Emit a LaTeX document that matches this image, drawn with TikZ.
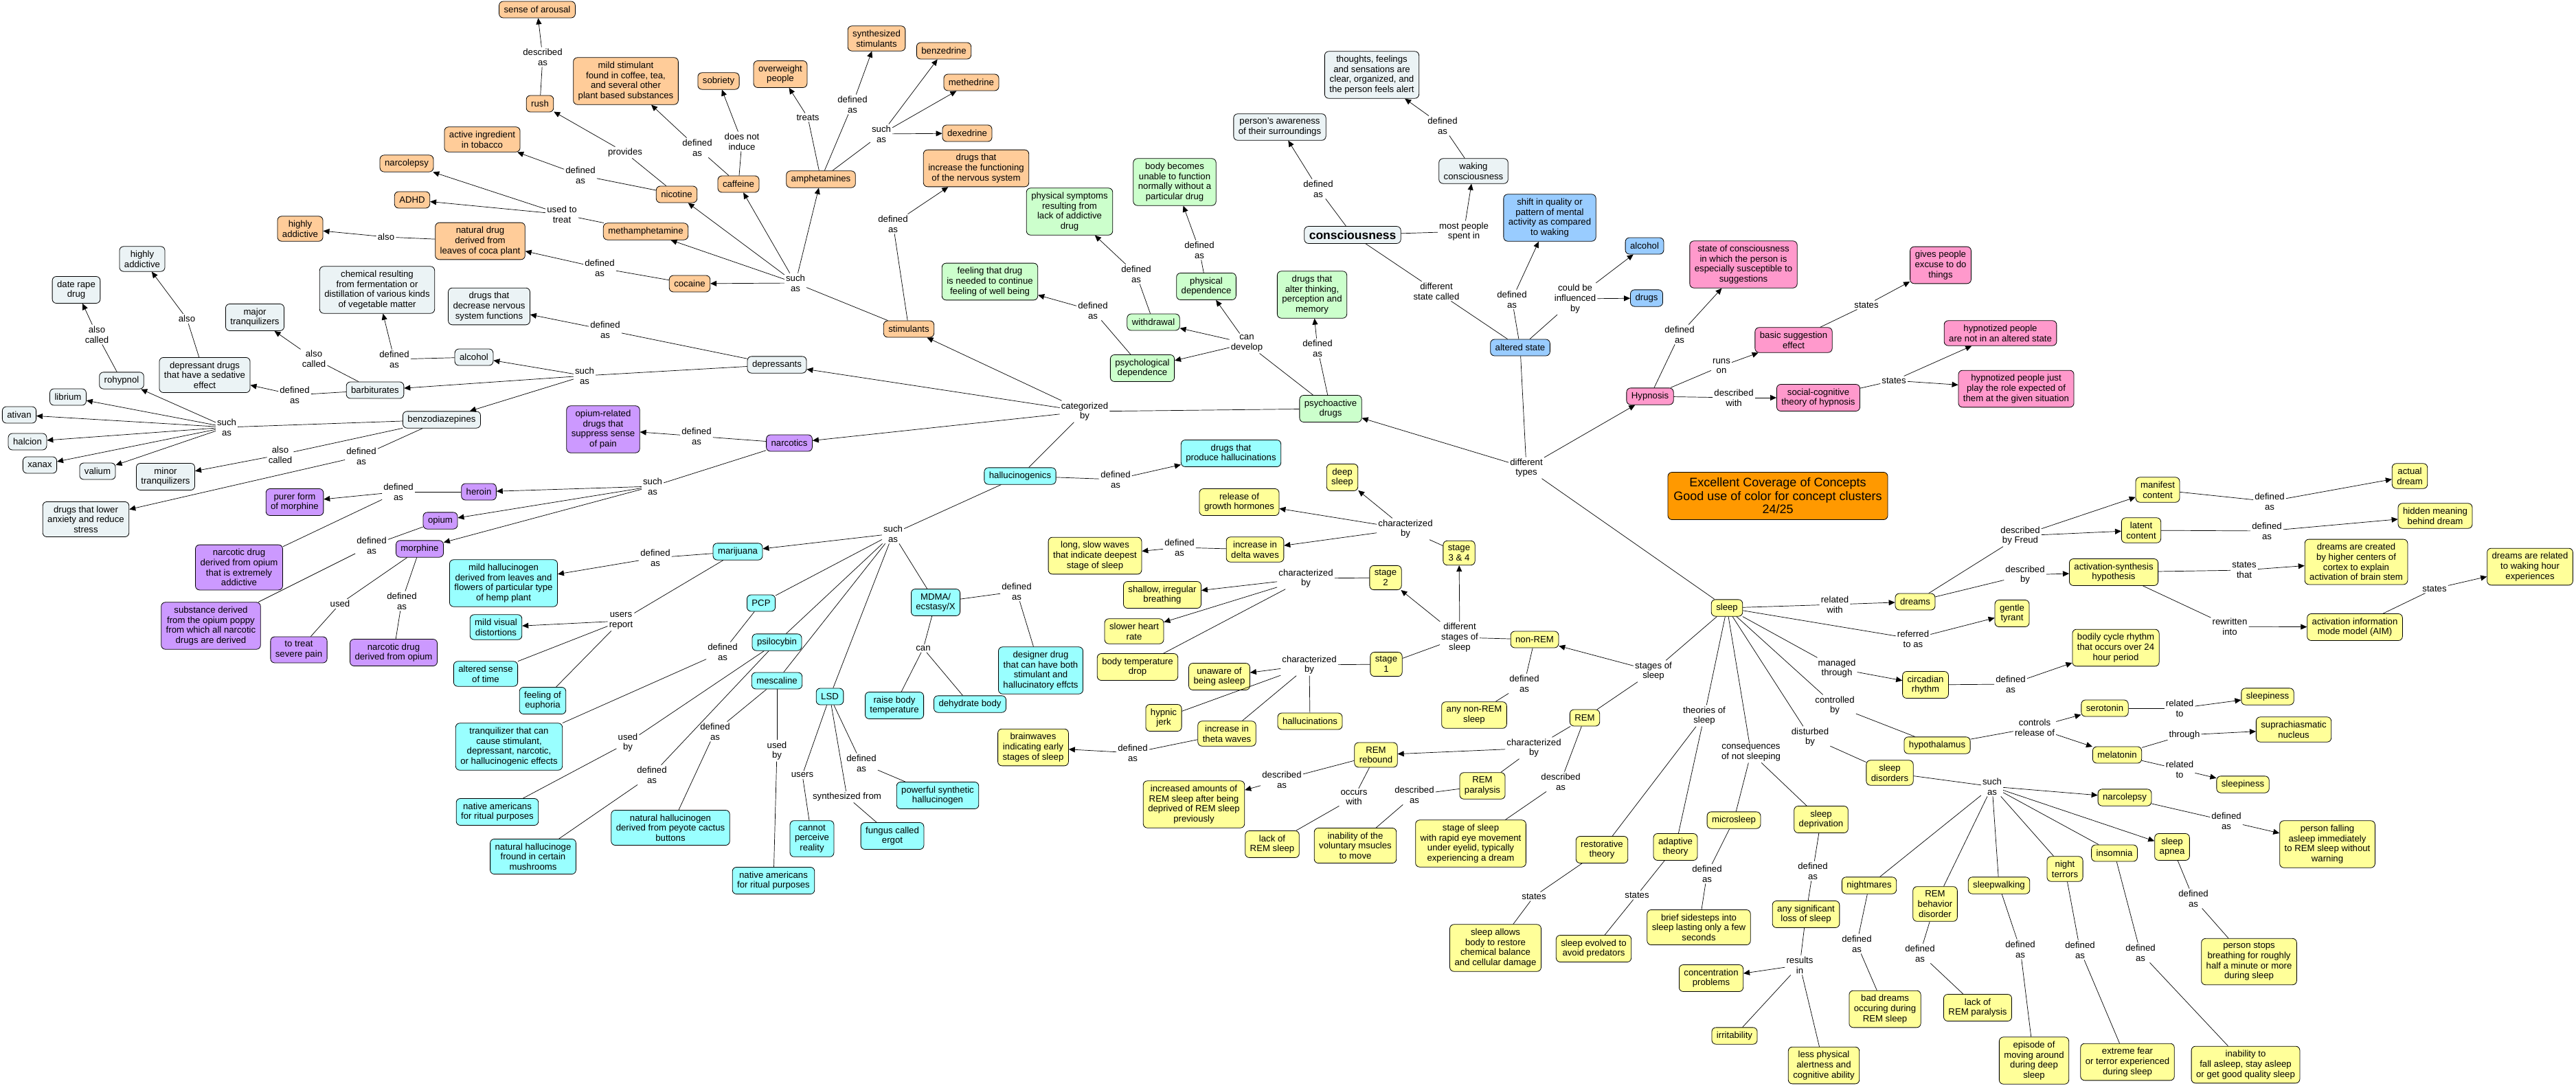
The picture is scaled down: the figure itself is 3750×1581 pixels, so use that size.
\documentclass[tikz,border=0pt]{standalone}
\usepackage{fontspec}
\setmainfont{Liberation Sans}
\usetikzlibrary{arrows.meta}
\definecolor{stimorange}{HTML}{FFCC99}
\definecolor{depgray}{HTML}{EBF3F5}
\definecolor{narcpurple}{HTML}{CC99FF}
\definecolor{halcyan}{HTML}{99FFFF}
\definecolor{psygreen}{HTML}{CCFFCC}
\definecolor{altblue}{HTML}{99CCFF}
\definecolor{hyppink}{HTML}{FF99CC}
\definecolor{slpyellow}{HTML}{FFFF99}
\definecolor{gradeorange}{HTML}{FF9900}
\newcommand{\mapfont}{\fontsize{13.2}{14.7}\selectfont}
\tikzset{
    concept/.style={draw,rounded corners=6pt,align=center,inner xsep=7pt,inner ysep=6pt,
        minimum height=24pt,line width=0.8pt,font=\mapfont},
    stimbox/.style={concept,fill=stimorange},
    depbox/.style={concept,fill=depgray},
    narcbox/.style={concept,fill=narcpurple},
    halbox/.style={concept,fill=halcyan},
    psybox/.style={concept,fill=psygreen},
    altbox/.style={concept,fill=altblue},
    hypbox/.style={concept,fill=hyppink},
    slpbox/.style={concept,fill=slpyellow},
    lnk/.style={align=center,inner sep=2pt,font=\mapfont},
    every edge/.style={draw,-{Triangle[length=9pt,width=8pt]},line width=0.7pt},
    plain/.style={-},
}
\begin{document}
\begin{tikzpicture}[x=1pt,y=-1pt]
    \useasboundingbox (0,0) rectangle (3750,1581);

    % stimulants
    \node[stimbox] (arousal) at (782,14) {sense of arousal};
    \node[stimbox] (rush) at (786,151) {rush};
    \node[stimbox] (mildstim) at (911,118) {mild stimulant\\found in coffee, tea,\\and several other\\plant based substances};
    \node[stimbox] (tobacco) at (702,203) {active ingredient\\in tobacco};
    \node[stimbox] (narcoO) at (592,238) {narcolepsy};
    \node[stimbox] (adhd) at (600,291) {ADHD};
    \node[stimbox] (addO) at (437,333) {highly\\addictive};
    \node[stimbox] (coca) at (699,351) {natural drug\\derived from\\leaves of coca plant};
    \node[stimbox] (meth) at (940,337) {methamphetamine};
    \node[stimbox] (sobriety) at (1046,118) {sobriety};
    \node[stimbox] (overweight) at (1136,108) {overweight\\people};
    \node[stimbox] (synth) at (1276,56) {synthesized\\stimulants};
    \node[stimbox] (benzed) at (1374,74) {benzedrine};
    \node[stimbox] (methed) at (1414,120) {methedrine};
    \node[stimbox] (dexed) at (1408,194) {dexedrine};
    \node[stimbox] (caffeine) at (1075,268) {caffeine};
    \node[stimbox] (nicotine) at (985,283) {nicotine};
    \node[stimbox] (amph) at (1195,261) {amphetamines};
    \node[stimbox] (incfunc) at (1421,245) {drugs that\\increase the functioning\\of the nervous system};
    \node[stimbox] (cocaine) at (1004,413) {cocaine};
    \node[stimbox] (stim) at (1323,479) {stimulants};

    % depressants and consciousness
    \node[depbox] (addG) at (207,377) {highly\\addictive};
    \node[depbox] (daterape) at (111,422) {date rape\\drug};
    \node[depbox] (majtranq) at (371,462) {major\\tranquilizers};
    \node[depbox] (chem) at (549,422) {chemical resulting\\from fermentation or\\distillation of various kinds\\of vegetable matter};
    \node[depbox] (decfunc) at (712,446) {drugs that\\decrease nervous\\system functions};
    \node[depbox] (alcG) at (690,520) {alcohol};
    \node[depbox] (sedative) at (298,546) {depressant drugs\\that have a sedative\\effect};
    \node[depbox] (dep) at (1131,531) {depressants};
    \node[depbox] (rohyp) at (177,554) {rohypnol};
    \node[depbox] (librium) at (99,578) {librium};
    \node[depbox] (ativan) at (28,604) {ativan};
    \node[depbox] (halcion) at (40,643) {halcion};
    \node[depbox] (xanax) at (58,677) {xanax};
    \node[depbox] (valium) at (142,686) {valium};
    \node[depbox] (mintranq) at (241,694) {minor\\tranquilizers};
    \node[depbox] (anxiety) at (125,756) {drugs that lower\\anxiety and reduce\\stress};
    \node[depbox] (barb) at (546,568) {barbiturates};
    \node[depbox] (benzo) at (643,611) {benzodiazepines};
    \node[depbox] (awareness) at (1863,185) {person's awareness\\of their surroundings};
    \node[depbox] (thoughts) at (1997,109) {thoughts, feelings\\and sensations are\\clear, organized, and\\the person feels alert};
    \node[depbox] (waking) at (2145,249) {waking\\consciousness};
    \node[depbox,font=\fontsize{17.5}{20}\selectfont\bfseries] (consc) at (1969,342) {consciousness};

    % narcotics
    \node[narcbox] (opirel) at (878,625) {opium-related\\drugs that\\suppress sense\\of pain};
    \node[narcbox] (narc) at (1149,645) {narcotics};
    \node[narcbox] (heroin) at (697,716) {heroin};
    \node[narcbox] (purer) at (429,731) {purer form\\of morphine};
    \node[narcbox] (opium) at (641,758) {opium};
    \node[narcbox] (extadd) at (348,826) {narcotic drug\\derived from opium\\that is extremely\\addictive};
    \node[narcbox] (poppy) at (307,911) {substance derived\\from the opium poppy\\from which all narcotic\\drugs are derived};
    \node[narcbox] (morph) at (611,799) {morphine};
    \node[narcbox] (severe) at (435,946) {to treat\\severe pain};
    \node[narcbox] (fromopium) at (573,950) {narcotic drug\\derived from opium};

    % hallucinogenics
    \node[halbox] (hemp) at (733,849) {mild hallucinogen\\derived from leaves and\\flowers of particular type\\of hemp plant};
    \node[halbox] (visual) at (722,913) {mild visual\\distortions};
    \node[halbox] (timesense) at (707,981) {altered sense\\of time};
    \node[halbox] (euphoria) at (790,1020) {feeling of\\euphoria};
    \node[halbox] (tranqz) at (741,1087) {tranquilizer that can\\cause stimulant,\\depressant, narcotic,\\or hallucinogenic effects};
    \node[halbox] (nativeL) at (724,1182) {native americans\\for ritual purposes};
    \node[halbox] (mushroom) at (776,1247) {natural hallucinoge\\fround in certain\\mushrooms};
    \node[halbox] (peyote) at (976,1205) {natural hallucinogen\\derived from peyote cactus\\buttons};
    \node[halbox] (nativeR) at (1126,1282) {native americans\\for ritual purposes};
    \node[halbox] (perceive) at (1182,1221) {cannot\\perceive\\reality};
    \node[halbox] (ergot) at (1299,1217) {fungus called\\ergot};
    \node[halbox] (powerful) at (1365,1158) {powerful synthetic\\hallucinogen};
    \node[halbox] (hal) at (1485,693) {hallucinogenics};
    \node[halbox] (produce) at (1792,660) {drugs that\\produce hallucinations};
    \node[halbox] (marij) at (1074,803) {marijuana};
    \node[halbox] (pcp) at (1108,878) {PCP};
    \node[halbox] (psilo) at (1131,935) {psilocybin};
    \node[halbox] (mesc) at (1131,991) {mescaline};
    \node[halbox] (lsd) at (1208,1014) {LSD};
    \node[halbox] (mdma) at (1362,877) {MDMA/\\ecstasy/X};
    \node[halbox] (designer) at (1515,976) {designer drug\\that can have both\\stimulant and\\hallucinatory effcts};
    \node[halbox] (raise) at (1302,1027) {raise body\\temperature};
    \node[halbox] (dehyd) at (1412,1025) {dehydrate body};

    % psychoactive drugs
    \node[psybox] (physsym) at (1557,308) {physical symptoms\\resulting from\\lack of addictive\\drug};
    \node[psybox] (unable) at (1710,265) {body becomes\\unable to function\\normally without a\\particular drug};
    \node[psybox] (feelwell) at (1441,410) {feeling that drug\\is needed to continue\\feeling of well being};
    \node[psybox] (withdr) at (1679,469) {withdrawal};
    \node[psybox] (physdep) at (1756,417) {physical\\dependence};
    \node[psybox] (psychdep) at (1663,536) {psychological\\dependence};
    \node[psybox] (alter) at (1910,429) {drugs that\\alter thinking,\\perception and\\memory};
    \node[psybox] (psy) at (1937,595) {psychoactive\\drugs};

    % altered state
    \node[altbox] (shift) at (2256,317) {shift in quality or\\pattern of mental\\activity as compared\\to waking};
    \node[altbox] (alcB) at (2394,358) {alcohol};
    \node[altbox] (drugsB) at (2397,434) {drugs};
    \node[altbox] (alt) at (2213,506) {altered state};

    % hypnosis
    \node[hypbox] (susc) at (2538,385) {state of consciousness\\in which the person is\\especially susceptible to\\suggestions};
    \node[hypbox] (basic) at (2611,495) {basic suggestion\\effect};
    \node[hypbox] (excuse) at (2825,386) {gives people\\excuse to do\\things};
    \node[hypbox] (notalt) at (2912,485) {hypnotized people\\are not in an altered state};
    \node[hypbox] (hyp) at (2402,577) {Hypnosis};
    \node[hypbox] (social) at (2647,579) {social-cognitive\\theory of hypnosis};
    \node[hypbox] (role) at (2935,566) {hypnotized people just\\play the role expected of\\them at the given situation};

    % sleep
    \node[slpbox] (deep) at (1954,695) {deep\\sleep};
    \node[slpbox] (growth) at (1804,731) {release of\\growth hormones};
    \node[slpbox] (longslow) at (1594,809) {long, slow waves\\that indicate deepest\\stage of sleep};
    \node[slpbox] (delta) at (1827,800) {increase in\\delta waves};
    \node[slpbox] (st34) at (2124,805) {stage\\3 \& 4};
    \node[slpbox] (st2) at (2017,841) {stage\\2};
    \node[slpbox] (shallow) at (1692,866) {shallow, irregular\\breathing};
    \node[slpbox] (heart) at (1651,919) {slower heart\\rate};
    \node[slpbox] (tempdrop) at (1656,971) {body temperature\\drop};
    \node[slpbox] (unaware) at (1775,985) {unaware of\\being asleep};
    \node[slpbox] (st1) at (2018,967) {stage\\1};
    \node[slpbox] (nonrem) at (2234,931) {non-REM};
    \node[slpbox] (jerk) at (1694,1045) {hypnic\\jerk};
    \node[slpbox] (theta) at (1786,1068) {increase in\\theta waves};
    \node[slpbox] (hallu) at (1907,1050) {hallucinations};
    \node[slpbox] (anynon) at (2146,1041) {any non-REM\\sleep};
    \node[slpbox] (rem) at (2307,1045) {REM};
    \node[slpbox] (brainw) at (1504,1088) {brainwaves\\indicating early\\stages of sleep};
    \node[slpbox] (remreb) at (2003,1099) {REM\\rebound};
    \node[slpbox] (rempar) at (2158,1144) {REM\\paralysis};
    \node[slpbox] (incamt) at (1738,1171) {increased amounts of\\REM sleep after being\\deprived of REM sleep\\previously};
    \node[slpbox] (lackrem) at (1852,1229) {lack of\\REM sleep};
    \node[slpbox] (inability) at (1973,1231) {inability of the\\voluntary msucles\\to move};
    \node[slpbox] (rapid) at (2141,1228) {stage of sleep\\with rapid eye movement\\under eyelid, typically\\experiencing a dream};
    \node[slpbox] (sleep) at (2514,885) {sleep};
    \node[slpbox] (restor) at (2332,1237) {restorative\\theory};
    \node[slpbox] (adapt) at (2439,1233) {adaptive\\theory};
    \node[slpbox] (restore) at (2177,1380) {sleep allows\\body to restore\\chemical balance\\and cellular damage};
    \node[slpbox] (predators) at (2320,1381) {sleep evolved to\\avoid predators};
    \node[slpbox] (micro) at (2524,1194) {microsleep};
    \node[slpbox] (deprive) at (2651,1193) {sleep\\deprivation};
    \node[slpbox] (sidesteps) at (2473,1350) {brief sidesteps into\\sleep lasting only a few\\seconds};
    \node[slpbox] (anyloss) at (2629,1331) {any significant\\loss of sleep};
    \node[slpbox] (concentr) at (2491,1424) {concentration\\problems};
    \node[slpbox] (irrit) at (2525,1508) {irritability};
    \node[slpbox] (lessphys) at (2655,1551) {less physical\\alertness and\\cognitive ability};
    \node[slpbox] (disorders) at (2751,1125) {sleep\\disorders};
    \node[slpbox] (nightm) at (2721,1289) {nightmares};
    \node[slpbox] (baddream) at (2744,1469) {bad dreams\\occuring during\\REM sleep};
    \node[slpbox] (dreams) at (2788,876) {dreams};
    \node[slpbox] (manifest) at (3141,713) {manifest\\content};
    \node[slpbox] (latent) at (3117,772) {latent\\content};
    \node[slpbox] (actual) at (3508,693) {actual\\dream};
    \node[slpbox] (hidden) at (3545,751) {hidden meaning\\behind dream};
    \node[slpbox] (actsyn) at (3077,833) {activation-synthesis\\hypothesis};
    \node[slpbox] (created) at (3430,818) {dreams are created\\by higher centers of\\cortex to explain\\activation of brain stem};
    \node[slpbox] (related) at (3683,825) {dreams are related\\to waking hour\\experiences};
    \node[slpbox] (aim) at (3428,913) {activation information\\mode model (AIM)};
    \node[slpbox] (tyrant) at (2929,893) {gentle\\tyrant};
    \node[slpbox] (bodily) at (3080,943) {bodily cycle rhythm\\that occurs over 24\\hour period};
    \node[slpbox] (circ) at (2803,997) {circadian\\rhythm};
    \node[slpbox] (serot) at (3064,1031) {serotonin};
    \node[slpbox] (sleepyA) at (3301,1014) {sleepiness};
    \node[slpbox] (scn) at (3339,1062) {suprachiasmatic\\nucleus};
    \node[slpbox] (hypoth) at (2820,1085) {hypothalamus};
    \node[slpbox] (melat) at (3082,1099) {melatonin};
    \node[slpbox] (sleepyB) at (3265,1142) {sleepiness};
    \node[slpbox] (narcoY) at (3093,1161) {narcolepsy};
    \node[slpbox] (falling) at (3388,1229) {person falling\\asleep immediately\\to REM sleep without\\warning};
    \node[slpbox] (apnea) at (3162,1233) {sleep\\apnea};
    \node[slpbox] (insom) at (3078,1242) {insomnia};
    \node[slpbox] (terrors) at (3006,1265) {night\\terrors};
    \node[slpbox] (walk) at (2910,1289) {sleepwalking};
    \node[slpbox] (rbd) at (2817,1316) {REM\\behavior\\disorder};
    \node[slpbox] (stops) at (3274,1400) {person stops\\breathing for roughly\\half a minute or more\\during sleep};
    \node[slpbox] (lackpar) at (2879,1467) {lack of\\REM paralysis};
    \node[slpbox] (episode) at (2961,1544) {episode of\\moving around\\during deep\\sleep};
    \node[slpbox] (fear) at (3097,1546) {extreme fear\\or terror experienced\\during sleep};
    \node[slpbox] (insomdef) at (3269,1550) {inability to\\fall asleep, stay asleep\\or get good quality sleep};

    % grade
    \node[concept,fill=gradeorange,font=\fontsize{18}{19.5}\selectfont,minimum width=320pt,minimum height=69pt] (grade) at (2588,722)
        {Excellent Coverage of Concepts\\Good use of color for concept clusters\\24/25};

    % linking phrases
    \node[lnk] (Lrush) at (790,83) {described\\as};
    \node[lnk] (Lprov) at (910,222) {provides};
    \node[lnk] (Lnicdef) at (845,255) {defined\\as};
    \node[lnk] (Ltreat) at (818,312) {used to\\treat};
    \node[lnk] (Lalso1) at (562,345) {also};
    \node[lnk] (Lcocdef) at (873,390) {defined\\as};
    \node[lnk] (Lcaffdef) at (1015,215) {defined\\as};
    \node[lnk] (Lnotind) at (1080,206) {does not\\induce};
    \node[lnk] (Ltreats) at (1176,171) {treats};
    \node[lnk] (Lamphdef) at (1241,152) {defined\\as};
    \node[lnk] (Lamphsuch) at (1283,195) {such\\as};
    \node[lnk] (Lstimsuch) at (1158,412) {such\\as};
    \node[lnk] (Lstimdef) at (1300,326) {defined\\as};
    \node[lnk] (Lalso2) at (272,464) {also};
    \node[lnk] (Lac1) at (141,487) {also\\called};
    \node[lnk] (Lac2) at (457,522) {also\\called};
    \node[lnk] (Lalcdef) at (574,523) {defined\\as};
    \node[lnk] (Ldepdef) at (881,480) {defined\\as};
    \node[lnk] (Ldepsuch) at (851,547) {such\\as};
    \node[lnk] (Lbarbdef) at (429,575) {defined\\as};
    \node[lnk] (Lbenzsuch) at (330,622) {such\\as};
    \node[lnk] (Lac3) at (408,662) {also\\called};
    \node[lnk] (Lbenzdef) at (526,664) {defined\\as};
    \node[lnk] (Lnarcdef) at (1014,635) {defined\\as};
    \node[lnk] (Lnarcsuch) at (950,708) {such\\as};
    \node[lnk] (Lherdef) at (580,716) {defined\\as};
    \node[lnk] (Lopdef) at (541,794) {defined\\as};
    \node[lnk] (Lused) at (495,879) {used};
    \node[lnk] (Lmorphdef) at (585,875) {defined\\as};
    \node[lnk] (Lmarijdef) at (954,812) {defined\\as};
    \node[lnk] (Lreport) at (904,904) {users\\report};
    \node[lnk] (Lpcpdef) at (1052,949) {defined\\as};
    \node[lnk] (Lusedby1) at (914,1081) {used\\by};
    \node[lnk] (Lpsidef) at (949,1128) {defined\\as};
    \node[lnk] (Lmescdef) at (1041,1065) {defined\\as};
    \node[lnk] (Lusedby2) at (1131,1093) {used\\by};
    \node[lnk] (Lusers) at (1168,1128) {users};
    \node[lnk] (Lsynfrom) at (1233,1160) {synthesized from};
    \node[lnk] (Llsddef) at (1254,1111) {defined\\as};
    \node[lnk] (Lhalsuch) at (1300,777) {such\\as};
    \node[lnk] (Lcan) at (1344,944) {can};
    \node[lnk] (Lmdmadef) at (1480,861) {defined\\as};
    \node[lnk] (Lhaldef) at (1624,698) {defined\\as};
    \node[lnk] (Lcat) at (1579,599) {categorized\\by};
    \node[lnk] (Lwithdef) at (1654,399) {defined\\as};
    \node[lnk] (Lphysdef) at (1746,364) {defined\\as};
    \node[lnk] (Lpsychdef) at (1591,452) {defined\\as};
    \node[lnk] (Ldevelop) at (1815,500) {can\\develop};
    \node[lnk] (Lpsydef) at (1918,507) {defined\\as};
    \node[lnk] (Lconsdef) at (1919,275) {defined\\as};
    \node[lnk] (Lwakdef) at (2100,183) {defined\\as};
    \node[lnk] (Lspent) at (2131,337) {most people\\spent in};
    \node[lnk] (Lstatecalled) at (2091,424) {different\\state called};
    \node[lnk] (Laltdef) at (2201,436) {defined\\as};
    \node[lnk] (Linfl) at (2293,435) {could be\\influenced\\by};
    \node[lnk] (Ltypes) at (2222,681) {different\\types};
    \node[lnk] (Lhypdef) at (2445,487) {defined\\as};
    \node[lnk] (Lruns) at (2506,533) {runs\\on};
    \node[lnk] (Ldescwith) at (2524,579) {described\\with};
    \node[lnk] (Lbasicst) at (2717,444) {states};
    \node[lnk] (Lsocst) at (2757,554) {states};
    \node[lnk] (Lchar34) at (2046,770) {characterized\\by};
    \node[lnk] (Lchar2) at (1901,842) {characterized\\by};
    \node[lnk] (Lchar1) at (1906,968) {characterized\\by};
    \node[lnk] (Lstages) at (2125,928) {different\\stages of\\sleep};
    \node[lnk] (Lnonremdef) at (2219,995) {defined\\as};
    \node[lnk] (Lstagesof) at (2407,977) {stages of\\sleep};
    \node[lnk] (Lthetadef) at (1649,1096) {defined\\as};
    \node[lnk] (Ldeltadef) at (1717,797) {defined\\as};
    \node[lnk] (Lremchar) at (2233,1089) {characterized\\by};
    \node[lnk] (Lremdesc) at (2272,1138) {described\\as};
    \node[lnk] (Lrebdesc) at (1866,1135) {described\\as};
    \node[lnk] (Loccurs) at (1971,1161) {occurs\\with};
    \node[lnk] (Lpardesc) at (2059,1157) {described\\as};
    \node[lnk] (Ltheories) at (2481,1042) {theories of\\sleep};
    \node[lnk] (Lrestst) at (2233,1305) {states};
    \node[lnk] (Ladaptst) at (2383,1303) {states};
    \node[lnk] (Lconseq) at (2549,1096) {consequences\\of not sleeping};
    \node[lnk] (Lmicrodef) at (2485,1272) {defined\\as};
    \node[lnk] (Ldeprdef) at (2639,1268) {defined\\as};
    \node[lnk] (Lresults) at (2620,1405) {results\\in};
    \node[lnk] (Ldisturbed) at (2635,1073) {disturbed\\by};
    \node[lnk] (Lcontrolled) at (2671,1027) {controlled\\by};
    \node[lnk] (Lmanaged) at (2674,973) {managed\\through};
    \node[lnk] (Lreferred) at (2785,930) {referred\\to as};
    \node[lnk] (Lrelwith) at (2671,880) {related\\with};
    \node[lnk] (Lfreud) at (2941,780) {described\\by Freud};
    \node[lnk] (Ldescby) at (2948,837) {described\\by};
    \node[lnk] (Lmandef) at (3304,730) {defined\\as};
    \node[lnk] (Llatdef) at (3300,773) {defined\\as};
    \node[lnk] (Lstatesthat) at (3267,830) {states\\that};
    \node[lnk] (Lrewritten) at (3246,912) {rewritten\\into};
    \node[lnk] (Laimst) at (3544,857) {states};
    \node[lnk] (Lcircdef) at (2927,996) {defined\\as};
    \node[lnk] (Lcontrols) at (2962,1059) {controls\\release of};
    \node[lnk] (Lserrel) at (3173,1031) {related\\to};
    \node[lnk] (Lthrough) at (3180,1070) {through};
    \node[lnk] (Lmelrel) at (3173,1120) {related\\to};
    \node[lnk] (Ldissuch) at (2900,1145) {such\\as};
    \node[lnk] (Lnarcodef) at (3241,1195) {defined\\as};
    \node[lnk] (Lapneadef) at (3193,1308) {defined\\as};
    \node[lnk] (Lwalkdef) at (2941,1382) {defined\\as};
    \node[lnk] (Lterrdef) at (3028,1383) {defined\\as};
    \node[lnk] (Linsomdef) at (3116,1387) {defined\\as};
    \node[lnk] (Lrbddef) at (2795,1388) {defined\\as};
    \node[lnk] (Lnightdef) at (2703,1374) {defined\\as};

    % stimulant links
    \path
    (rush) edge[plain] (Lrush) (Lrush) edge (arousal)
    (nicotine) edge[plain] (Lprov) (Lprov) edge (rush)
    (nicotine) edge[plain] (Lnicdef) (Lnicdef) edge (tobacco)
    (meth) edge[plain] (Ltreat) (Ltreat) edge (narcoO) (Ltreat) edge (adhd)
    (coca) edge[plain] (Lalso1) (Lalso1) edge (addO)
    (cocaine) edge[plain] (Lcocdef) (Lcocdef) edge (coca)
    (caffeine) edge[plain] (Lcaffdef) (Lcaffdef) edge (mildstim)
    (caffeine) edge[plain] (Lnotind) (Lnotind) edge (sobriety)
    (amph) edge[plain] (Ltreats) (Ltreats) edge (overweight)
    (amph) edge[plain] (Lamphdef) (Lamphdef) edge (synth)
    (amph) edge[plain] (Lamphsuch) (Lamphsuch) edge (benzed) (Lamphsuch) edge (methed) (Lamphsuch) edge (dexed)
    (stim) edge[plain] (Lstimsuch) (Lstimsuch) edge (cocaine) (Lstimsuch) edge (meth) (Lstimsuch) edge (nicotine)
        (Lstimsuch) edge (caffeine) (Lstimsuch) edge (amph)
    (stim) edge[plain] (Lstimdef) (Lstimdef) edge (incfunc);

    % depressant links
    \path
    (sedative) edge[plain] (Lalso2) (Lalso2) edge (addG)
    (rohyp) edge[plain] (Lac1) (Lac1) edge (daterape)
    (barb) edge[plain] (Lac2) (Lac2) edge (majtranq)
    (alcG) edge[plain] (Lalcdef) (Lalcdef) edge (chem)
    (dep) edge[plain] (Ldepdef) (Ldepdef) edge (decfunc)
    (dep) edge[plain] (Ldepsuch) (Ldepsuch) edge (alcG) (Ldepsuch) edge (barb) (Ldepsuch) edge (benzo)
    (barb) edge[plain] (Lbarbdef) (Lbarbdef) edge (sedative)
    (benzo) edge[plain] (Lbenzsuch) (Lbenzsuch) edge (rohyp) (Lbenzsuch) edge (librium) (Lbenzsuch) edge (ativan)
        (Lbenzsuch) edge (halcion) (Lbenzsuch) edge (xanax) (Lbenzsuch) edge (valium)
    (benzo) edge[plain] (Lac3) (Lac3) edge (mintranq)
    (benzo) edge[plain] (Lbenzdef) (Lbenzdef) edge (anxiety);

    % consciousness and altered state
    \path
    (consc) edge[plain] (Lconsdef) (Lconsdef) edge (awareness)
    (waking) edge[plain] (Lwakdef) (Lwakdef) edge (thoughts)
    (consc) edge[plain] (Lspent) (Lspent) edge (waking)
    (consc) edge[plain] (Lstatecalled) (Lstatecalled) edge[plain] (alt)
    (alt) edge[plain] (Laltdef) (Laltdef) edge (shift)
    (alt) edge[plain] (Linfl) (Linfl) edge (alcB) (Linfl) edge (drugsB)
    (alt) edge[plain] (Ltypes) (Ltypes) edge (psy) (Ltypes) edge (hyp) (Ltypes) edge[plain] (sleep);

    % psychoactive drugs
    \path
    (psy) edge[plain] (Lpsydef) (Lpsydef) edge (alter)
    (psy) edge[plain] (Ldevelop) (Ldevelop) edge (withdr) (Ldevelop) edge (physdep) (Ldevelop) edge (psychdep)
    (withdr) edge[plain] (Lwithdef) (Lwithdef) edge (physsym)
    (physdep) edge[plain] (Lphysdef) (Lphysdef) edge (unable)
    (psychdep) edge[plain] (Lpsychdef) (Lpsychdef) edge (feelwell)
    (psy) edge[plain] (Lcat) (Lcat) edge (stim) (Lcat) edge (dep) (Lcat) edge (narc) (Lcat) edge[plain] (hal);

    % narcotics
    \path
    (narc) edge[plain] (Lnarcdef) (Lnarcdef) edge (opirel)
    (narc) edge[plain] (Lnarcsuch) (Lnarcsuch) edge (heroin) (Lnarcsuch) edge (opium) (Lnarcsuch) edge (morph)
    (heroin) edge[plain] (Lherdef) (Lherdef) edge (purer) (Lherdef) edge[plain] (extadd)
    (opium) edge[plain] (Lopdef) (Lopdef) edge[plain] (poppy)
    (morph) edge[plain] (Lused) (Lused) edge[plain] (severe)
    (morph) edge[plain] (Lmorphdef) (Lmorphdef) edge[plain] (fromopium);

    % hallucinogenics
    \path
    (hal) edge[plain] (Lhaldef) (Lhaldef) edge (produce)
    (hal) edge[plain] (Lhalsuch) (Lhalsuch) edge (marij) (Lhalsuch) edge[plain] (pcp) (Lhalsuch) edge[plain] (psilo)
        (Lhalsuch) edge[plain] (mesc) (Lhalsuch) edge[plain] (lsd) (Lhalsuch) edge[plain] (mdma)
    (marij) edge[plain] (Lmarijdef) (Lmarijdef) edge (hemp)
    (marij) edge[plain] (Lreport) (Lreport) edge (visual) (Lreport) edge[plain] (timesense) (Lreport) edge[plain] (euphoria)
    (pcp) edge[plain] (Lpcpdef) (Lpcpdef) edge[plain] (tranqz)
    (psilo) edge[plain] (Lusedby1) (Lusedby1) edge[plain] (nativeL)
    (psilo) edge[plain] (Lpsidef) (Lpsidef) edge[plain] (mushroom)
    (mesc) edge[plain] (Lmescdef) (Lmescdef) edge[plain] (peyote)
    (mesc) edge[plain] (Lusedby2) (Lusedby2) edge[plain] (nativeR)
    (lsd) edge[plain] (Lusers) (Lusers) edge[plain] (perceive)
    (lsd) edge[plain] (Lsynfrom) (Lsynfrom) edge[plain] (ergot)
    (lsd) edge[plain] (Llsddef) (Llsddef) edge[plain] (powerful)
    (mdma) edge[plain] (Lcan) (Lcan) edge[plain] (raise) (Lcan) edge[plain] (dehyd)
    (mdma) edge[plain] (Lmdmadef) (Lmdmadef) edge[plain] (designer);

    % hypnosis
    \path
    (hyp) edge[plain] (Lhypdef) (Lhypdef) edge (susc)
    (hyp) edge[plain] (Lruns) (Lruns) edge (basic)
    (hyp) edge[plain] (Ldescwith) (Ldescwith) edge (social)
    (basic) edge[plain] (Lbasicst) (Lbasicst) edge (excuse)
    (social) edge[plain] (Lsocst) (Lsocst) edge (notalt) (Lsocst) edge (role);

    % sleep stages
    \path
    (st34) edge[plain] (Lchar34) (Lchar34) edge (deep) (Lchar34) edge (growth) (Lchar34) edge (delta)
    (delta) edge[plain] (Ldeltadef) (Ldeltadef) edge (longslow)
    (st2) edge[plain] (Lchar2) (Lchar2) edge (shallow) (Lchar2) edge (heart) (Lchar2) edge[plain] (tempdrop)
    (st1) edge[plain] (Lchar1) (Lchar1) edge (unaware) (Lchar1) edge[plain] (jerk) (Lchar1) edge[plain] (theta)
        (Lchar1) edge[plain] (hallu)
    (theta) edge[plain] (Lthetadef) (Lthetadef) edge (brainw)
    (nonrem) edge[plain] (Lstages) (Lstages) edge (st34) (Lstages) edge (st2) (Lstages) edge[plain] (st1)
    (nonrem) edge[plain] (Lnonremdef) (Lnonremdef) edge[plain] (anynon)
    (sleep) edge[plain] (Lstagesof) (Lstagesof) edge (nonrem) (Lstagesof) edge[plain] (rem)
    (rem) edge[plain] (Lremchar) (Lremchar) edge (remreb) (Lremchar) edge[plain] (rempar)
    (rem) edge[plain] (Lremdesc) (Lremdesc) edge[plain] (rapid)
    (remreb) edge[plain] (Lrebdesc) (Lrebdesc) edge (incamt)
    (remreb) edge[plain] (Loccurs) (Loccurs) edge[plain] (lackrem)
    (rempar) edge[plain] (Lpardesc) (Lpardesc) edge[plain] (inability);

    % sleep theories, deprivation, disorders
    \path
    (sleep) edge[plain] (Ltheories) (Ltheories) edge[plain] (restor) (Ltheories) edge[plain] (adapt)
    (restor) edge[plain] (Lrestst) (Lrestst) edge[plain] (restore)
    (adapt) edge[plain] (Ladaptst) (Ladaptst) edge[plain] (predators)
    (sleep) edge[plain] (Lconseq) (Lconseq) edge[plain] (micro) (Lconseq) edge[plain] (deprive)
    (micro) edge[plain] (Lmicrodef) (Lmicrodef) edge[plain] (sidesteps)
    (deprive) edge[plain] (Ldeprdef) (Ldeprdef) edge[plain] (anyloss)
    (anyloss) edge[plain] (Lresults) (Lresults) edge (concentr) (Lresults) edge[plain] (irrit) (Lresults) edge[plain] (lessphys)
    (sleep) edge[plain] (Ldisturbed) (Ldisturbed) edge[plain] (disorders)
    (disorders) edge[plain] (Ldissuch) (Ldissuch) edge (narcoY) (Ldissuch) edge (apnea) (Ldissuch) edge[plain] (insom)
        (Ldissuch) edge[plain] (terrors) (Ldissuch) edge[plain] (walk) (Ldissuch) edge[plain] (rbd) (Ldissuch) edge[plain] (nightm)
    (narcoY) edge[plain] (Lnarcodef) (Lnarcodef) edge (falling)
    (apnea) edge[plain] (Lapneadef) (Lapneadef) edge[plain] (stops)
    (walk) edge[plain] (Lwalkdef) (Lwalkdef) edge[plain] (episode)
    (terrors) edge[plain] (Lterrdef) (Lterrdef) edge[plain] (fear)
    (insom) edge[plain] (Linsomdef) (Linsomdef) edge[plain] (insomdef)
    (rbd) edge[plain] (Lrbddef) (Lrbddef) edge[plain] (lackpar)
    (nightm) edge[plain] (Lnightdef) (Lnightdef) edge[plain] (baddream);

    % dreams and rhythm
    \path
    (sleep) edge[plain] (Lcontrolled) (Lcontrolled) edge[plain] (hypoth)
    (sleep) edge[plain] (Lmanaged) (Lmanaged) edge (circ)
    (sleep) edge[plain] (Lreferred) (Lreferred) edge (tyrant)
    (sleep) edge[plain] (Lrelwith) (Lrelwith) edge (dreams)
    (dreams) edge[plain] (Lfreud) (Lfreud) edge (manifest) (Lfreud) edge (latent)
    (dreams) edge[plain] (Ldescby) (Ldescby) edge (actsyn)
    (manifest) edge[plain] (Lmandef) (Lmandef) edge (actual)
    (latent) edge[plain] (Llatdef) (Llatdef) edge (hidden)
    (actsyn) edge[plain] (Lstatesthat) (Lstatesthat) edge (created)
    (actsyn) edge[plain] (Lrewritten) (Lrewritten) edge (aim)
    (aim) edge[plain] (Laimst) (Laimst) edge (related)
    (circ) edge[plain] (Lcircdef) (Lcircdef) edge (bodily)
    (hypoth) edge[plain] (Lcontrols) (Lcontrols) edge (serot) (Lcontrols) edge (melat)
    (serot) edge[plain] (Lserrel) (Lserrel) edge (sleepyA)
    (melat) edge[plain] (Lthrough) (Lthrough) edge (scn)
    (melat) edge[plain] (Lmelrel) (Lmelrel) edge (sleepyB);
\end{tikzpicture}
\end{document}
